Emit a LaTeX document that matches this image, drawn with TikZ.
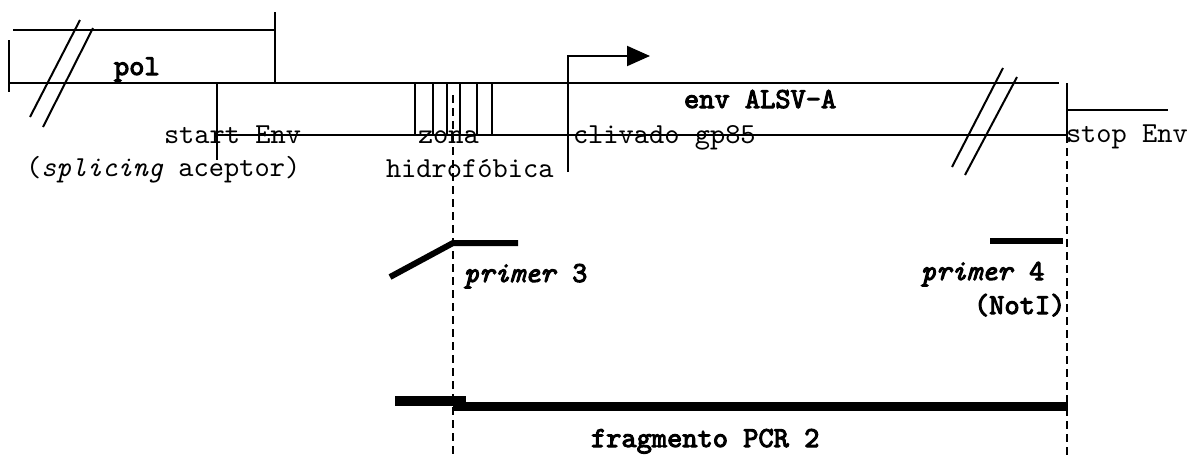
\documentclass[tikz,border=0pt]{standalone}
\usepackage{fontspec}
\setmonofont{lmmono10-regular.otf}[
  ItalicFont=lmmono10-italic.otf,
  BoldFont=lmmono10-regular.otf,
  BoldItalicFont=lmmono10-italic.otf,
  BoldFeatures={FakeBold=3.5},
  BoldItalicFeatures={FakeBold=3.5}]
\usetikzlibrary{arrows.meta}
\begin{document}
\begin{tikzpicture}[x=1pt,y=-1pt,line width=2pt,
  lbl/.style={font=\ttfamily\fontsize{29}{32}\selectfont,inner sep=0pt,anchor=base west},
  blbl/.style={font=\ttfamily\bfseries\fontsize{29}{32}\selectfont,inner sep=0pt,anchor=base west},
  dashline/.style={line width=2pt,dash pattern=on 8pt off 5pt},
  primerline/.style={line width=6pt},
  fragline/.style={line width=9pt}]
\useasboundingbox (0,0) rectangle (1202,456);
% coordinates
\coordinate (polTL) at (13,30);
\coordinate (polTR) at (275,30);
\coordinate (polTick) at (275,12);
\coordinate (mainL) at (9,83);
\coordinate (mainR) at (1059,83);
\coordinate (startTop) at (217,83);
\coordinate (startBot) at (217,160);
\coordinate (envBL) at (217,135);
\coordinate (envBR) at (1067,135);
\coordinate (stopTop) at (1067,83);
\coordinate (stopBot) at (1067,456);
\coordinate (stopOut) at (1168,110);
\coordinate (cutL) at (453,95);
\coordinate (cutB) at (453,456);
% pol box
\draw (polTL) -- (polTR);
\draw (polTick) -- (275,83);
\draw (9,40) -- (9,92);
\draw (mainL) -- (mainR);
\draw (80,20) -- (30,117);
\draw (93,28) -- (43,127);
\node[blbl] (pol) at (113,75) {pol};
% start Env
\draw (startTop) -- (startBot);
\draw (envBL) -- (envBR);
% hydrophobic zone
\foreach \x in {415,433,447,460,477,492} \draw (\x,83) -- (\x,135);
% promoter arrow
\draw[-{Triangle[length=23pt,width=20pt]}] (568,172) -- (568,56) -- (650,56);
% right slashes
\draw (1003,68) -- (952,167);
\draw (1017,77) -- (965,175);
% stop
\draw (stopTop) -- (1067,140);
\draw (1067,110) -- (stopOut);
\draw[dashline] (stopTop) -- (stopBot);
\draw[dashline] (cutL) -- (cutB);
% labels
\node[blbl] (envl) at (683,108) {env ALSV-A};
\node[lbl] (start) at (163,143) {start Env};
\node[lbl] (splice) at (25,176) {(\textit{splicing} aceptor)};
\node[lbl] (zona) at (417,143) {zona};
\node[lbl] (hidro) at (385,177) {hidrofóbica};
\node[lbl] (cliv) at (572,143) {clivado gp85};
\node[lbl] (stopl) at (1065,142) {stop Env};
% primers
\draw[primerline] (390,277) -- (453,243) -- (518,243);
\node[blbl] (p3) at (463,282) {\textit{primer} 3};
\draw[primerline] (990,241) -- (1063,241);
\node[blbl] (p4) at (920,280) {\textit{primer} 4};
\node[blbl] (noti) at (973,314) {(NotI)};
% PCR fragment
\draw[line width=10pt] (395,401) -- (466,401);
\draw[fragline] (453,406) -- (1068,406);
\node[blbl] (frag) at (590,447) {fragmento PCR 2};
\end{tikzpicture}
\end{document}
